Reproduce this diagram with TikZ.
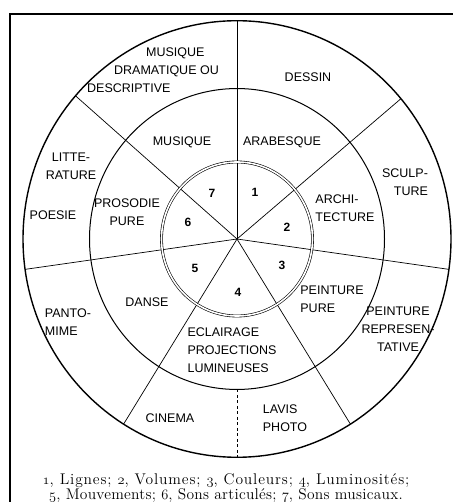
\documentclass[tikz,border=0pt]{standalone}
\usepackage{fontspec}
\setsansfont{Liberation Sans}
\newfontfamily\legendfont{lmroman12-regular}[Extension=.otf]
\usetikzlibrary{positioning}
\newcommand\osnum[1]{{\usefont{OML}{cmm}{m}{it}#1}}

\begin{document}
\begin{tikzpicture}[x=1pt, y=1pt,
		rim/.style={
			line width=1.4pt
		},
		ring/.style={
			line width=1pt
		},
		hub/.style={
			line width=0.6pt,
			double,
			double distance=1.6pt
		},
		spoke/.style={
			line width=0.7pt
		},
		split/.style={
			line width=0.9pt,
			dash pattern=on 3pt off 2.5pt
		},
		lbl/.style={
			font=\sffamily\fontsize{12.5}{18}\selectfont,
			inner sep=1pt,
			align=center
		},
		num/.style={
			font=\sffamily\bfseries\fontsize{12}{14}\selectfont,
			inner sep=1pt
		},
		legend/.style={
			font=\legendfont\fontsize{15.5}{15}\selectfont,
			align=center
		}
		]
		
		\useasboundingbox (-237pt,-263pt) rectangle (216pt,239pt);
		
		% Frame
		\draw[rim] (-227,-263) -- (-227,225) -- (216,225);
		
		% Wheel
		\begin{scope}[yscale=1.02]
			\coordinate (c) at (0,0);
			\draw[rim] (c) circle (214);
			\draw[ring] (c) circle (147.5);
			\foreach \a in {90,40,-8,-58,-122,188,139}
				\draw[spoke] (c) -- (\a:214);
			\draw[split] (-90:147.5) -- (-90:214);
			\draw[hub, fill=white] (c) circle (75.5);
			\foreach \a in {90,40,-8,-58,-122,188,139}
				\draw[spoke] (c) -- (\a:74.5);
		\end{scope}
		
		% Inner ring
		\node (n1) [num] at (18,47) {1};
		\node (n2) [num] at (50,12) {2};
		\node (n3) [num] at (45,-26) {3};
		\node (n4) [num] at (1,-53) {4};
		\node (n5) [num] at (-42,-29) {5};
		\node (n6) [num] at (-49,17) {6};
		\node (n7) [num] at (-25,46) {7};
		
		% Middle ring
		\node (arab) [lbl] at (45,97) {ARABESQUE};
		\node (archi) [lbl, align=left] at (108,31) {ARCHI-\\TECTURE};
		\node (ppure) [lbl, align=left] at (95,-60) {PEINTURE\\PURE};
		\node (eclair) [lbl, align=left] at (-5,-111) {ECLAIRAGE\\PROJECTIONS\\LUMINEUSES};
		\node (danse) [lbl] at (-90,-63) {DANSE};
		\node (prosod) [lbl] at (-110,27) {PROSODIE\\PURE};
		\node (mus) [lbl] at (-55,97) {MUSIQUE};
		
		% Outer ring
		\node (dessin) [lbl] at (71,162) {DESSIN};
		\node (sculp) [lbl, align=right] at (168,57) {SCULP-\\TURE};
		\node (prepr) [lbl] at (161,-90) {PEINTURE\\REPRESEN-\\TATIVE};
		\node (lavis) [lbl, align=left] at (48,-179) {LAVIS\\PHOTO};
		\node (cinema) [lbl] at (-67,-179) {CINEMA};
		\node (panto) [lbl, align=left] at (-169,-83) {PANTO-\\MIME};
		\node (poesie) [lbl] at (-184,24) {POESIE};
		\node (litt) [lbl] at (-166,73) {LITTE-\\RATURE};
		\node (musdram) [lbl, align=left] at (-84,169) {\hspace{59pt}MUSIQUE\\\hspace{27pt}DRAMATIQUE OU\\DESCRIPTIVE};
		
		% Caption
		\node (legende) [legend] at (-11,-249) {{\addfontfeature{LetterSpace=5.5}\osnum{1}, Lignes; \osnum{2}, Volumes; \osnum{3}, Couleurs; \osnum{4}, Luminosités;}\\ {\addfontfeature{LetterSpace=1.6}\osnum{5}, Mouvements; \osnum{6}, Sons articulés; \osnum{7}, Sons musicaux.}};
		
	\end{tikzpicture}
\end{document}
